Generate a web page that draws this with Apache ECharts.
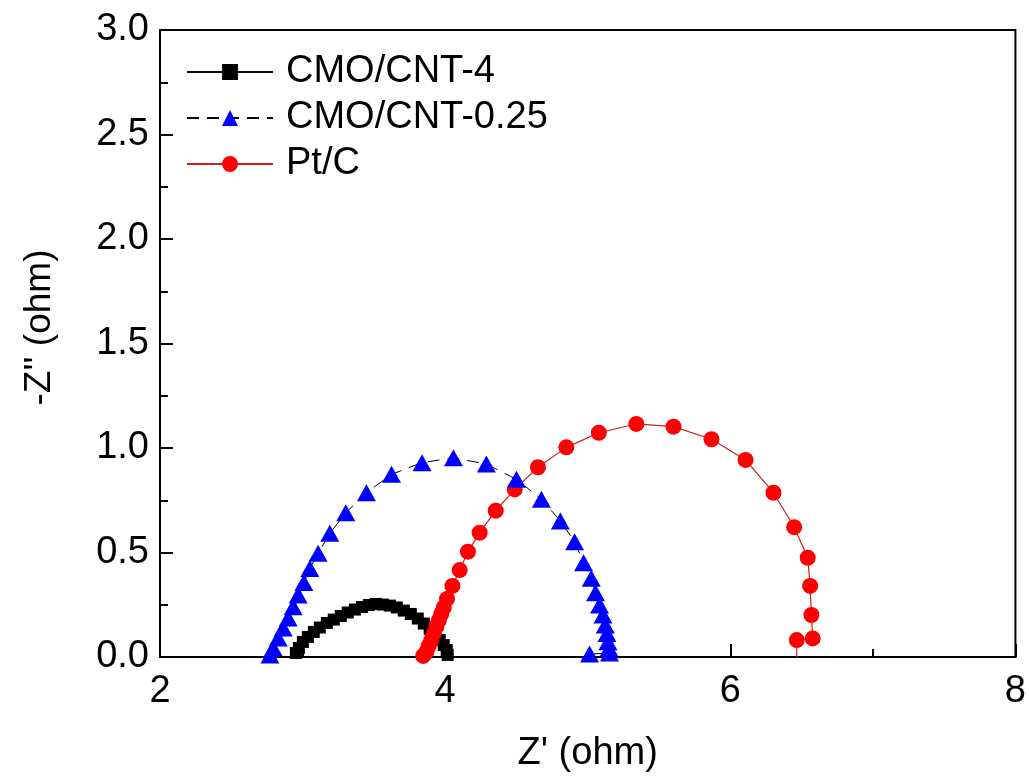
<!DOCTYPE html>
<html>
<head>
<meta charset="utf-8">
<script src="https://cdn.jsdelivr.net/npm/echarts@6/dist/echarts.min.js"></script>
<style>
  html, body { margin: 0; padding: 0; background: #fff; }
  #chart { width: 1029px; height: 782px; }
</style>
</head>
<body>
<div id="chart"></div>
<script>
// 图例名称
const seriesNames = ['CMO/CNT-4', 'CMO/CNT-0.25', 'Pt/C'];

// CMO/CNT-4 (黑色方块)
const cnt4X = [2.953, 2.974, 3.002, 3.037, 3.079, 3.121, 3.170, 3.219, 3.268, 3.317, 3.367, 3.416, 3.465,
  3.514, 3.563, 3.612, 3.661, 3.710, 3.759, 3.808, 3.850, 3.892, 3.927, 3.962, 3.990, 4.011, 4.018];
const cnt4Y = [0.019, 0.043, 0.072, 0.096, 0.120, 0.141, 0.163, 0.179, 0.196, 0.213, 0.227, 0.239, 0.249,
  0.254, 0.251, 0.246, 0.237, 0.222, 0.206, 0.184, 0.160, 0.134, 0.108, 0.081, 0.057, 0.033, 0.010];

// CMO/CNT-0.25 (蓝色三角)
const cnt025X = [2.771, 2.794, 2.829, 2.864, 2.899, 2.934, 2.969, 3.009, 3.051, 3.109, 3.191, 3.303, 3.448,
  3.624, 3.838, 4.058, 4.289, 4.500, 4.675, 4.808, 4.908, 4.971, 5.025, 5.055, 5.083, 5.107, 5.123,
  5.135, 5.142, 5.149, 5.153, 5.013];
const cnt025Y = [0.010, 0.043, 0.091, 0.139, 0.187, 0.241, 0.297, 0.356, 0.424, 0.496, 0.592, 0.690, 0.786,
  0.874, 0.930, 0.953, 0.923, 0.850, 0.755, 0.651, 0.552, 0.451, 0.377, 0.308, 0.249, 0.201, 0.153,
  0.113, 0.073, 0.042, 0.019, 0.014];

// Pt/C (红色圆点)
const ptcX = [3.846, 3.869, 3.885, 3.903, 3.920, 3.938, 3.955, 3.973, 3.990, 4.013, 4.051, 4.102, 4.160,
  4.242, 4.355, 4.488, 4.651, 4.850, 5.078, 5.341, 5.602, 5.868, 6.107, 6.303, 6.448, 6.543, 6.560,
  6.569, 6.578, 6.466, 6.466];
const ptcY = [0.005, 0.024, 0.053, 0.081, 0.112, 0.144, 0.175, 0.206, 0.237, 0.278, 0.340, 0.416, 0.504,
  0.595, 0.700, 0.802, 0.908, 1.003, 1.073, 1.115, 1.102, 1.042, 0.943, 0.786, 0.621, 0.475, 0.340,
  0.201, 0.089, 0.081, -0.05];

// 坐标轴刻度
const xTicks = [2, 4, 6, 8];
const yTicks = [0, 0.5, 1.0, 1.5, 2.0, 2.5, 3.0];

function pairs(xs, ys) {
  return xs.map(function (x, i) { return [x, ys[i]]; });
}

const font = 'Liberation Sans, Arial, sans-serif';
const chart = echarts.init(document.getElementById('chart'));

const optionData = {
  animation: false,
  backgroundColor: '#fff',
  grid: {
    left: 160, right: 12, top: 30, bottom: 125,
    show: true,
    borderColor: '#000',
    borderWidth: 2
  },
  legend: {
    orient: 'vertical',
    left: 181,
    top: 48,
    itemWidth: 86,
    itemHeight: 20,
    itemGap: 8,
    data: [seriesNames[0], seriesNames[1], seriesNames[2]],
    textStyle: { fontFamily: font, fontSize: 38, color: '#000', lineHeight: 38, padding: [0, 0, 0, 8] }
  },
  xAxis: {
    type: 'value',
    min: xTicks[0],
    max: xTicks[xTicks.length - 1],
    interval: 2,
    name: "Z' (ohm)",
    nameLocation: 'middle',
    nameGap: 78,
    nameTextStyle: { fontFamily: font, fontSize: 38, color: '#000' },
    axisLine: { lineStyle: { color: '#000', width: 2 } },
    axisTick: { inside: true, length: 13, lineStyle: { color: '#000', width: 2 } },
    minorTick: { show: true, splitNumber: 2, length: 8, lineStyle: { color: '#000', width: 2 } },
    axisLabel: { fontFamily: font, fontSize: 38, color: '#000', margin: 16 },
    splitLine: { show: false }
  },
  yAxis: {
    type: 'value',
    min: yTicks[0],
    max: yTicks[yTicks.length - 1],
    interval: 0.5,
    name: "-Z'' (ohm)",
    nameLocation: 'middle',
    nameGap: 102,
    nameTextStyle: { fontFamily: font, fontSize: 37, color: '#000', padding: [0, 0, 0, 32] },
    axisLine: { lineStyle: { color: '#000', width: 2 } },
    axisTick: { inside: true, length: 13, lineStyle: { color: '#000', width: 2 } },
    minorTick: { show: true, splitNumber: 2, length: 8, lineStyle: { color: '#000', width: 2 } },
    axisLabel: {
      fontFamily: font, fontSize: 38, color: '#000', margin: 11,
      formatter: function (v) { return v.toFixed(1); }
    },
    splitLine: { show: false }
  },
  series: [
    {
      name: seriesNames[0],
      type: 'line',
      data: pairs(cnt4X, cnt4Y),
      symbol: 'rect',
      symbolSize: 12,
      itemStyle: { color: '#000' },
      lineStyle: { color: '#000', width: 1 },
      z: 2
    },
    {
      name: seriesNames[2],
      type: 'line',
      data: pairs(ptcX, ptcY),
      symbol: 'circle',
      symbolSize: 16,
      itemStyle: { color: '#ff0000' },
      lineStyle: { color: '#c62020', width: 1.2 },
      clip: true,
      z: 3
    },
    {
      name: seriesNames[1],
      type: 'line',
      data: pairs(cnt025X, cnt025Y),
      symbol: 'triangle',
      symbolSize: [19, 17],
      itemStyle: { color: '#0000ff' },
      lineStyle: { color: '#000', width: 1, type: [12, 8] },
      z: 4
    }
  ]
};

chart.setOption(optionData);
</script>
</body>
</html>
